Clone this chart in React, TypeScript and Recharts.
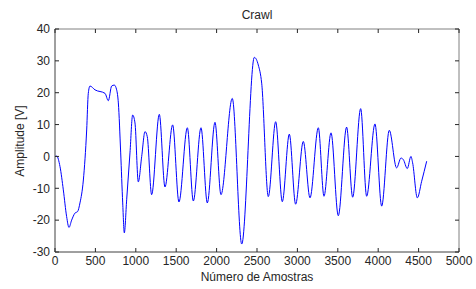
import React from "react";
import { LineChart, Line, XAxis, YAxis, ReferenceArea } from "recharts";

const samples = [
  0, 21, 62, 103, 144, 173, 206, 247, 280, 309, 351, 392, 412, 433, 495, 619, 660, 701, 734, 763,
  784, 813, 838, 858, 887, 928, 961, 990, 1031, 1073, 1114, 1142, 1196, 1291, 1361, 1456, 1534,
  1638, 1712, 1807, 1885, 1980, 2054, 2194, 2311, 2467, 2516, 2558, 2640, 2731, 2813, 2900, 2978,
  3073, 3156, 3259, 3329, 3416, 3506, 3609, 3684, 3783, 3857, 3960, 4043, 4137, 4228, 4282, 4311,
  4360, 4405, 4426, 4484, 4538, 4600,
];
const amplitude = [
  0, 0.1, -3.2, -10.5, -18.9, -22.3, -20, -17.8, -17.3, -14.6, -7.4, 8.3, 19.8, 22.1, 20.9, 19.8,
  17.5, 22.1, 22.4, 20.9, 16.8, 1.1, -14.6, -24, -13.6, 1.1, 13, 10.5, -8, 0, 7.8, 6.2, -12, 13.2,
  -9.6, 9.9, -14.3, 9, -14, 9, -14.6, 10.7, -12, 18.2, -27.5, 31.1, 28.7, 23, -12.6, 10.9, -14.2,
  7, -15, 4.7, -13, 9, -12.5, 7.4, -18.6, 9.2, -12.8, 15, -12.5, 10.2, -15.6, 8.2, -3.6, -0.5, -1,
  -3.8, 0, -2, -13, -7.8, -1.5,
];
const xTicks = [0, 500, 1000, 1500, 2000, 2500, 3000, 3500, 4000, 4500, 5000];
const yTicks = [-30, -20, -10, 0, 10, 20, 30, 40];

const data = samples.map((s, i) => ({ s, v: amplitude[i] }));

// plot box in page pixels (chart is placed at 0,0)
const box = { left: 55, right: 459, top: 29, bottom: 252 };
const tickLen = 4;
const fontFamily = "Arial, 'Liberation Sans', sans-serif";
const ink = "#262626";
const textStyle = { font: `12px ${fontFamily}`, color: ink };

const XTick = (props: any) => {
  const { x, payload } = props;
  return (
    <g>
      <line x1={x} x2={x} y1={box.bottom} y2={box.bottom - tickLen} stroke={ink} />
      <line x1={x} x2={x} y1={box.top} y2={box.top + tickLen} stroke={ink} />
      <text x={x} y={box.bottom + 4} dy="0.71em" textAnchor="middle" fontFamily={fontFamily} fontSize={12} fill={ink}>
        {payload.value}
      </text>
    </g>
  );
};

const YTick = (props: any) => {
  const { y, payload } = props;
  return (
    <g>
      <line x1={box.left} x2={box.left + tickLen} y1={y} y2={y} stroke={ink} />
      <line x1={box.right} x2={box.right - tickLen} y1={y} y2={y} stroke={ink} />
      <text x={box.left - 5} y={y} dy="0.355em" textAnchor="end" fontFamily={fontFamily} fontSize={12} fill={ink}>
        {payload.value}
      </text>
    </g>
  );
};

export default function App() {
  return (
    <div style={{ position: "absolute", left: 0, top: 0, width: 476, height: 289 }}>
      <LineChart
        width={476}
        height={289}
        data={data}
        margin={{ top: box.top, right: 476 - box.right, left: 0, bottom: 0 }}
      >
        <XAxis
          dataKey="s"
          type="number"
          domain={[0, 5000]}
          ticks={xTicks}
          interval={0}
          tick={<XTick />}
          tickLine={false}
          axisLine={{ stroke: "#808080" }}
          height={289 - box.bottom}
        />
        <YAxis
          type="number"
          domain={[-30, 40]}
          ticks={yTicks}
          interval={0}
          tick={<YTick />}
          tickLine={false}
          axisLine={{ stroke: "#808080" }}
          width={box.left}
        />
        <ReferenceArea x1={0} x2={5000} y1={-30} y2={40} fill="none" stroke="#808080" strokeWidth={1} />
        <Line
          dataKey="v"
          type="monotone"
          stroke="#0000ff"
          strokeWidth={1}
          dot={false}
          isAnimationActive={false}
        />
      </LineChart>
      <div style={{ ...textStyle, position: "absolute", left: box.left, width: box.right - box.left, top: 8, textAlign: "center" }}>
        Crawl
      </div>
      <div style={{ ...textStyle, position: "absolute", left: box.left, width: box.right - box.left, top: 270, textAlign: "center" }}>
        Número de Amostras
      </div>
      <div style={{ ...textStyle, position: "absolute", left: 20, top: 141, transform: "translate(-50%, -50%) rotate(-90deg)", whiteSpace: "nowrap" }}>
        Amplitude [V]
      </div>
    </div>
  );
}
